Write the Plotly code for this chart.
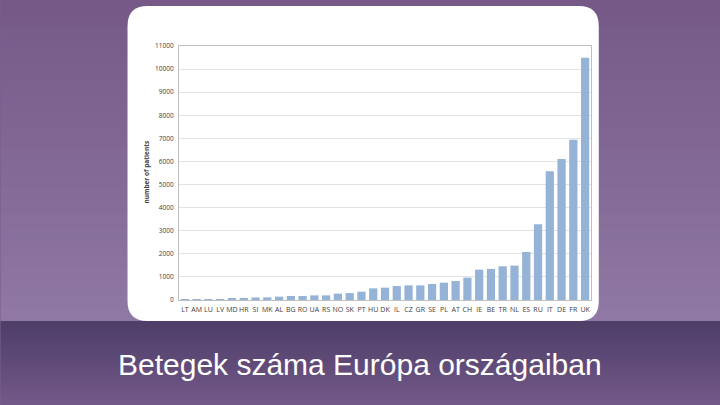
import plotly.graph_objects as go

countries = ["LT","AM","LU","LV","MD","HR","SI","MK","AL","BG","RO","UA","RS","NO","SK","PT",
             "HU","DK","IL","CZ","GR","SE","PL","AT","CH","IE","BE","TR","NL","ES","RU","IT",
             "DE","FR","UK"]
patients = [40,30,30,25,60,90,110,115,145,175,175,200,200,275,300,360,
            505,535,605,635,635,695,750,825,970,1315,1345,1460,1490,2080,3280,5580,
            6110,6940,10490]
y_ticks = list(range(0, 11001, 1000))
y_tick_labels = [str(v) for v in y_ticks]
title_text = "Betegek száma Európa országaiban"
y_title = "number of patients"

W, H = 720, 405
L, R, T, B = 178.5, 590.7, 46, 300

fig = go.Figure()
fig.add_trace(go.Bar(x=countries, y=patients, marker=dict(color="#95b3d7", line=dict(width=0)),
                     width=0.7, hoverinfo="skip"))

def px(x): return (x - L) / (R - L)
def py(y): return (B - y) / (B - T)

shapes = []
def hexmix(c1, c2, t):
    a = [int(c1[i:i+2], 16) for i in (1, 3, 5)]
    b = [int(c2[i:i+2], 16) for i in (1, 3, 5)]
    return "#" + "".join(f"{round(x + (y - x) * t):02x}" for x, y in zip(a, b))

n = 24
top_end = 321
for i in range(n):
    y0 = top_end * i / n
    y1 = top_end * (i + 1) / n + 0.6
    shapes.append(dict(type="rect", xref="paper", yref="paper", layer="below",
                       x0=px(0), x1=px(W), y0=py(y1), y1=py(y0),
                       fillcolor=hexmix("#765987", "#8f78a3", i / (n - 1)), line=dict(width=0)))
for i in range(n):
    y0 = top_end + (H - top_end) * i / n
    y1 = top_end + (H - top_end) * (i + 1) / n + 0.6
    shapes.append(dict(type="rect", xref="paper", yref="paper", layer="below",
                       x0=px(0), x1=px(W), y0=py(y1), y1=py(y0),
                       fillcolor=hexmix("#4e3e68", "#725888", i / (n - 1)), line=dict(width=0)))

cx0, cx1, cy0, cy1, r = 127, 598.5, 6, 321, 20
path = (f"M {px(cx0 + r)} {py(cy0)} L {px(cx1 - r)} {py(cy0)} "
        f"Q {px(cx1)} {py(cy0)} {px(cx1)} {py(cy0 + r)} "
        f"L {px(cx1)} {py(cy1 - r)} Q {px(cx1)} {py(cy1)} {px(cx1 - r)} {py(cy1)} "
        f"L {px(cx0 + r)} {py(cy1)} Q {px(cx0)} {py(cy1)} {px(cx0)} {py(cy1 - r)} "
        f"L {px(cx0)} {py(cy0 + r)} Q {px(cx0)} {py(cy0)} {px(cx0 + r)} {py(cy0)} Z")
shapes.append(dict(type="path", xref="paper", yref="paper", layer="below", path=path,
                   fillcolor="white", line=dict(width=0)))

fig.update_layout(
    width=W, height=H,
    margin=dict(l=L, r=W - R, t=T, b=H - B),
    paper_bgcolor="#7a5e8c", plot_bgcolor="rgba(0,0,0,0)",
    showlegend=False, shapes=shapes, hovermode=False,
    annotations=[
        dict(text=title_text, xref="paper", yref="paper", x=px(360), y=py(364),
             xanchor="center", yanchor="middle", showarrow=False,
             font=dict(family="Liberation Sans, Arial", size=30, color="white")),
        dict(text=f"<b>{y_title}</b>", xref="paper", yref="paper", x=px(145), y=py(172),
             xanchor="center", yanchor="middle", showarrow=False, textangle=-90,
             font=dict(family="Open Sans, Calibri", size=6.5, color="#404040")),
    ],
)
fig.update_xaxes(showgrid=False, showline=True, linecolor="#bfbfbf", linewidth=1, mirror=True,
                 ticks="", tickfont=dict(family="Open Sans, Calibri", size=7, color="#404040"),
                 tickangle=0, ticklabelstandoff=3)
fig.update_yaxes(range=[0, 11000], tickvals=y_ticks, ticktext=y_tick_labels, showgrid=True,
                 gridcolor="#e3e3e3", gridwidth=1, showline=True, linecolor="#bfbfbf",
                 linewidth=1, mirror=True, zeroline=False, ticks="", ticklabelstandoff=3,
                 tickfont=dict(family="Open Sans, Calibri", size=6.5, color="#404040"))

fig.write_html("out.html", config={"displayModeBar": False},
               post_script="document.body.style.margin='0';")
